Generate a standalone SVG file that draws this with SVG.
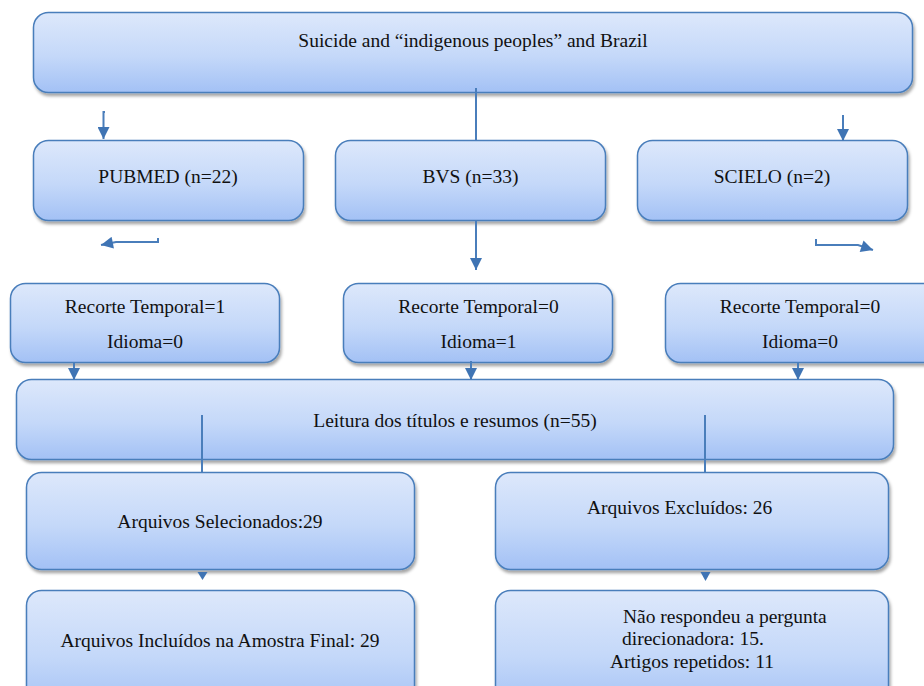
<svg xmlns="http://www.w3.org/2000/svg" width="924" height="686" viewBox="0 0 924 686">
<style>
.box{fill:url(#g);stroke:#4a7ebb;stroke-width:1.5;filter:url(#sh)}
.t{font-family:"Liberation Serif","Times New Roman",serif;font-size:19.5px;fill:#111}
.c{stroke:#4a7ebb;stroke-width:2;fill:none}
.ah{fill:#3f74b4}
</style>
<defs>
<linearGradient id="g" x1="0" y1="0" x2="0" y2="1">
<stop offset="0" stop-color="#dde8fb"/>
<stop offset="0.55" stop-color="#c4d8f9"/>
<stop offset="1" stop-color="#a3c1f5"/>
</linearGradient>
<filter id="sh" x="-5%" y="-10%" width="110%" height="130%">
<feDropShadow dx="1.5" dy="3" stdDeviation="1.5" flood-color="#000" flood-opacity="0.35"/>
</filter>
<marker id="arr" viewBox="0 0 10 10" refX="10" refY="5" markerWidth="14" markerHeight="12" markerUnits="userSpaceOnUse" orient="auto">
<path d="M0,0 L10,5 L0,10 z" fill="#3f74b4"/>
</marker>
</defs>

<g id="top"><rect class="box" x="33.5" y="12.5" width="879" height="80" rx="15"/>
<text class="t" x="473" y="47" text-anchor="middle">Suicide and “indigenous peoples” and Brazil</text></g>

<g id="pubmed"><rect class="box" x="33.5" y="140.5" width="270" height="80" rx="15"/>
<text class="t" x="168" y="183" text-anchor="middle">PUBMED (n=22)</text></g>
<g id="bvs"><rect class="box" x="335.5" y="140.5" width="270" height="80" rx="15"/>
<text class="t" x="470.5" y="183" text-anchor="middle">BVS (n=33)</text></g>
<g id="scielo"><rect class="box" x="637.5" y="140.5" width="270" height="80" rx="15"/>
<text class="t" x="772" y="183" text-anchor="middle">SCIELO (n=2)</text></g>

<g id="rec1"><rect class="box" x="10.5" y="283.5" width="269" height="79" rx="15"/>
<text class="t" x="145" y="313" text-anchor="middle">Recorte Temporal=1</text>
<text class="t" x="145" y="348" text-anchor="middle">Idioma=0</text></g>
<g id="rec2"><rect class="box" x="343.5" y="283.5" width="269" height="79" rx="15"/>
<text class="t" x="478.5" y="313" text-anchor="middle">Recorte Temporal=0</text>
<text class="t" x="478.5" y="348" text-anchor="middle">Idioma=1</text></g>
<g id="rec3"><rect class="box" x="665.5" y="283.5" width="280" height="79" rx="15"/>
<text class="t" x="800" y="313" text-anchor="middle">Recorte Temporal=0</text>
<text class="t" x="800" y="348" text-anchor="middle">Idioma=0</text></g>

<g id="leitura"><rect class="box" x="16.5" y="379.5" width="877" height="80" rx="15"/>
<text class="t" x="455" y="427" text-anchor="middle">Leitura dos títulos e resumos (n=55)</text></g>

<g id="sel"><rect class="box" x="26.5" y="472.5" width="388" height="97" rx="15"/>
<text class="t" x="220" y="528" text-anchor="middle">Arquivos Selecionados:29</text></g>
<g id="exc"><rect class="box" x="495.5" y="472.5" width="393" height="97" rx="15"/>
<text class="t" x="587" y="514">Arquivos Excluídos: 26</text></g>

<g id="inc"><rect class="box" x="26.5" y="590.5" width="388" height="120" rx="15"/>
<text class="t" x="220" y="647" text-anchor="middle">Arquivos Incluídos na Amostra Final: 29</text></g>
<g id="motivos"><rect class="box" x="495.5" y="590.5" width="393" height="120" rx="15"/>
<text class="t" x="623" y="623">Não respondeu a pergunta</text>
<text class="t" x="622" y="645">direcionadora: 15.</text>
<text class="t" x="610" y="668">Artigos repetidos: 11</text></g>

<g id="connectors">
<path class="c" d="M105,112 H103.5 V139" marker-end="url(#arr)"/>
<path class="c" d="M476,88 V141"/>
<path class="c" d="M843,115 V141" marker-end="url(#arr)"/>
<path class="c" d="M158,238 V242 H116 L101,245" marker-end="url(#arr)"/>
<path class="c" d="M476,221 V270" marker-end="url(#arr)"/>
<path class="c" d="M816,239 V245 H858 L873,250" marker-end="url(#arr)"/>
<path class="c" d="M74,363 V380" marker-end="url(#arr)"/>
<path class="c" d="M471,361 V380" marker-end="url(#arr)"/>
<path class="c" d="M798,363 V380" marker-end="url(#arr)"/>
<path class="c" d="M202,415 V473"/>
<path class="c" d="M705,415 V473"/>
<polygon class="ah" points="197.5,572 207.5,572 202.5,580"/>
<polygon class="ah" points="700.5,572 710.5,572 705.5,581"/>
</g>
</svg>
